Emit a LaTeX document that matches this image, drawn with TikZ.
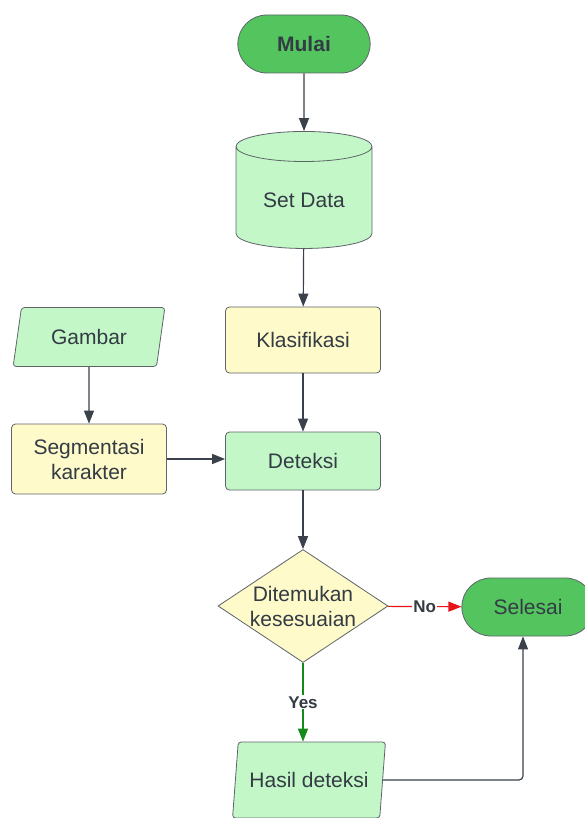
\documentclass[tikz,border=0pt]{standalone}
\usepackage{fontspec}
\setmainfont{Liberation Sans}
\usetikzlibrary{arrows.meta,shapes.geometric,shapes.misc}
\definecolor{termc}{HTML}{54C45E}
\definecolor{datac}{HTML}{C3F7C8}
\definecolor{procc}{HTML}{FFFAC9}
\definecolor{linec}{HTML}{3A414A}
\definecolor{bordc}{HTML}{5F646B}
\definecolor{txtc}{HTML}{333B44}
\definecolor{noc}{HTML}{E5141B}
\definecolor{yesc}{HTML}{15891B}

\begin{document}
\begin{tikzpicture}[
  x=1pt, y=-1pt,
  every node/.style={font=\fontsize{21}{25}\selectfont, text=txtc},
  term/.style={rounded rectangle, draw=bordc, line width=0.8pt, fill=termc,
               minimum width=139pt, minimum height=58pt},
  db/.style={cylinder, shape border rotate=90, aspect=0.34, draw=bordc, line width=0.8pt,
             fill=datac, minimum width=136pt, minimum height=117pt},
  proc/.style={rectangle, rounded corners=4pt, draw=bordc, line width=0.8pt, align=center,
               minimum width=155pt},
  io/.style={trapezium, trapezium left angle=77, trapezium right angle=103,
             trapezium stretches=true, rounded corners=3pt, draw=bordc, line width=0.8pt,
             fill=datac, minimum width=153pt},
  dec/.style={diamond, draw=bordc, line width=0.8pt, fill=procc, align=center,
              inner sep=-11pt, minimum width=170pt, minimum height=113pt},
  arr/.style={-{Triangle[length=13pt,width=10pt]}, draw=linec, line width=1.2pt},
  lbl/.style={font=\bfseries\fontsize{17}{19}\selectfont, fill=white, inner sep=1pt}]
\useasboundingbox[fill=white] (0,0) rectangle (584,818);
\node[term] (mulai) at (304,44) {\textbf{Mulai}};
\node[db] (setdata) at (304,200) {Set Data};
\node[proc, fill=procc, minimum height=66pt] (klasifikasi) at (303,340) {Klasifikasi};
\node[proc, fill=datac, minimum height=58pt] (deteksi) at (303,461) {Deteksi};
\node[io, minimum height=59pt] (gambar) at (89,337) {Gambar};
\node[proc, fill=procc, minimum height=70pt] (segmentasi) at (89,459) {Segmentasi\\karakter};
\node[dec] (cek) at (303,606) {Ditemukan\\kesesuaian};
\node[term] (selesai) at (528,607) {Selesai};
\node[io, minimum height=76pt] (hasil) at (309,780) {Hasil deteksi};
\draw[arr] (mulai) -- (setdata);
\draw[arr] (setdata) -- (klasifikasi);
\draw[arr] (klasifikasi) -- (deteksi);
\draw[arr] (gambar) -- (segmentasi);
\draw[arr] (segmentasi.east) -- (segmentasi.east -| deteksi.west);
\draw[arr] (deteksi) -- (cek);
\draw[arr, draw=noc] (cek) -- node[lbl] {No} (selesai);
\draw[arr, draw=yesc] (cek.south) -- node[lbl] {Yes} (cek.south |- hasil.north);
\draw[arr, rounded corners=4pt] (hasil.east) -| ([xshift=-5pt]selesai.south);
\end{tikzpicture}
\end{document}
